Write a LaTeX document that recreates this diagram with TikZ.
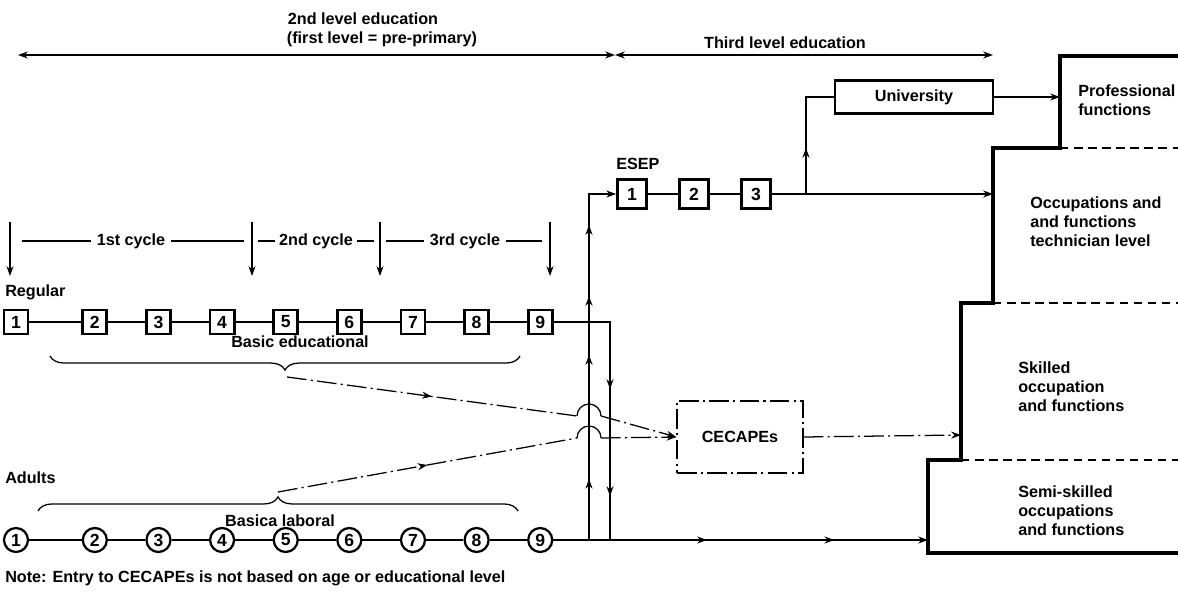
\documentclass[tikz,border=0pt]{standalone}
\usepackage{fontspec}
\setmainfont{Liberation Sans}
\usetikzlibrary{arrows.meta,positioning,calc,decorations.pathreplacing,decorations.markings}

\begin{document}
\begin{tikzpicture}[
  x=0.025cm, y=-0.025cm,
  node distance=0.92cm,
  font=\fontsize{11.5}{13.5}\selectfont\bfseries,
  sq/.style={rectangle,draw,line width=2pt,minimum size=0.6cm,inner sep=0pt,font=\fontsize{12.5}{14}\selectfont\bfseries},
  rnd/.style={circle,draw,line width=1.6pt,minimum size=0.6cm,inner sep=0pt,font=\fontsize{12.5}{14}\selectfont\bfseries},
  ln/.style={line width=0.9pt},
  tip/.style={ln,-{Stealth[length=7pt,width=5pt]}},
  dd/.style={line width=0.9pt,dash pattern=on 14pt off 3pt on 1.5pt off 3pt},
  stair/.style={line width=2.2pt,line join=miter},
  sepline/.style={line width=1pt,dash pattern=on 6pt off 4pt},
  midtip/.style={postaction={decorate,decoration={markings,mark=at position #1 with {\arrow{Stealth[length=7pt,width=5pt]}}}}},
  opentip/.style={postaction={decorate,decoration={markings,mark=at position #1 with {\arrow{Stealth[open,length=7pt,width=5pt]}}}}},
  txt/.style={align=left,anchor=west,inner sep=0pt}
]
  \useasboundingbox (0,0) rectangle (1178,597);

  % Levels
  \node (lvl2) at (363,19) {2nd level education};
  \node (lvl1) at (382,39) {(first level = pre-primary)};
  \node (lvl3) at (785,43) {Third level education};
  \coordinate (tL) at (18,55);
  \coordinate (tM) at (615,55);
  \coordinate (tR) at (993,55);
  \draw[ln,{Stealth[length=7pt,width=5pt]}-{Stealth[length=7pt,width=5pt]}] (tL) -- (tM);
  \draw[ln,{Stealth[length=7pt,width=5pt]}-{Stealth[length=7pt,width=5pt]}] (tM) -- (tR);

  % Cycles
  \coordinate (k0) at (10,222);
  \coordinate (k1) at (252,222);
  \coordinate (k2) at (380,222);
  \coordinate (k3) at (550,222);
  \coordinate (kb) at (0,276);
  \coordinate (ky) at (0,241);
  \draw[tip] (k0) -- (k0 |- kb);
  \draw[tip] (k1) -- (k1 |- kb);
  \draw[tip] (k2) -- (k2 |- kb);
  \draw[tip] (k3) -- (k3 |- kb);
  \draw[ln,shorten <=0.3cm,shorten >=0.2cm] (k0 |- ky) -- node[fill=white,inner xsep=4pt]{1st cycle} (k1 |- ky);
  \draw[ln,shorten <=0.15cm,shorten >=0.15cm] (k1 |- ky) -- node[fill=white,inner xsep=3pt]{2nd cycle} (k2 |- ky);
  \draw[ln,shorten <=0.15cm,shorten >=0.2cm] (k2 |- ky) -- node[fill=white,inner xsep=4pt]{3rd cycle} (k3 |- ky);

  % Regular
  \node[txt] (reg) at (5,292) {Regular};
  \node[sq] (r1) at (16,322) {1};
  \node[sq,right=1.3cm of r1] (r2) {2};
  \node[sq,right=of r2] (r3) {3};
  \node[sq,right=of r3] (r4) {4};
  \node[sq,right=of r4] (r5) {5};
  \node[sq,right=of r5] (r6) {6};
  \node[sq,right=of r6] (r7) {7};
  \node[sq,right=of r7] (r8) {8};
  \node[sq,right=of r8] (r9) {9};
  \draw[ln] (r1) -- (r2) -- (r3) -- (r4) -- (r5) -- (r6) -- (r7) -- (r8) -- (r9);
  \draw[ln,decorate,decoration={brace,mirror,amplitude=10pt}] (50,356) -- (520,356);
  \node (basic) at (300,342) {Basic educational};
  \coordinate (bt1) at (287,377);

  % Adults
  \node[txt] (adu) at (5,478) {Adults};
  \node[rnd] (a1) at (r1 |- 0,540) {1};
  \node[rnd] (a2) at (r2 |- a1) {2};
  \node[rnd] (a3) at (r3 |- a1) {3};
  \node[rnd] (a4) at (r4 |- a1) {4};
  \node[rnd] (a5) at (r5 |- a1) {5};
  \node[rnd] (a6) at (r6 |- a1) {6};
  \node[rnd] (a7) at (r7 |- a1) {7};
  \node[rnd] (a8) at (r8 |- a1) {8};
  \node[rnd] (a9) at (r9 |- a1) {9};
  \draw[ln] (a1) -- (a2) -- (a3) -- (a4) -- (a5) -- (a6) -- (a7) -- (a8) -- (a9);
  \draw[ln,decorate,decoration={brace,amplitude=10pt}] (38,511) -- (518,511);
  \node (lab) at (280,521) {Basica laboral};
  \coordinate (bt2) at (278,492);

  % ESEP and University
  \node[txt] (esep) at (616,164) {ESEP};
  \node[sq,minimum size=0.72cm] (e1) at (632,194) {1};
  \node[sq,minimum size=0.72cm,right=0.76cm of e1] (e2) {2};
  \node[sq,minimum size=0.72cm,right=0.76cm of e2] (e3) {3};
  \draw[ln] (e1) -- (e2) -- (e3);
  \node[sq,minimum width=3.95cm,minimum height=0.82cm,font=\fontsize{11.5}{13.5}\selectfont\bfseries] (uni) at (914,97) {University};
  \coordinate (uj) at (806,194);

  % CECAPEs
  \node[draw,dd,minimum width=3.15cm,minimum height=1.8cm] (cec) at (740,437) {CECAPEs};

  % Occupation levels
  \draw[stair] (1178,56) -- (1060,56) -- (1060,148) -- (993,148) -- (993,303) -- (961,303) -- (961,460) -- (928,460) -- (928,553) -- (1178,553);
  \draw[sepline] (1060,148) -- (1178,148);
  \draw[sepline] (993,303) -- (1178,303);
  \draw[sepline] (961,460) -- (1178,460);
  \node[txt] (prof) at (1078,100) {Professional\\functions};
  \node[txt] (tech) at (1030,222) {Occupations and\\and functions\\technician level};
  \node[txt] (skill) at (1018,387) {Skilled\\occupation\\and functions};
  \node[txt] (semi) at (1018,511) {Semi-skilled\\occupations\\and functions};
  \coordinate (profW) at (1060,97);
  \coordinate (techW) at (993,194);
  \coordinate (skillW) at (961,435);
  \coordinate (semiW) at (928,540);

  % Flows
  \coordinate (up) at (589,540);
  \coordinate (dn) at (610,322);
  \draw[tip,midtip=0.164,midtip=0.496,midtip=0.654,midtip=0.844] (up) -- (up |- e1) -- (e1.west);
  \draw[ln,midtip=0.45,midtip=0.84] (r9.east) -- (dn) -- (dn |- a1);
  \draw[tip,midtip=0.41,midtip=0.75] (a9.east) -- (semiW);
  \draw[tip] (e3.east) -- (techW);
  \draw[ln,opentip=0.37] (uj) -- (uj |- uni) -- (uni.west);
  \draw[tip] (uni.east) -- (profW);

  % Dash-dot routes to CECAPEs
  \draw[dd,midtip=0.5] (bt1) -- (577,416);
  \draw[ln] (577,416) arc[start angle=180,end angle=360,radius=12];
  \draw[dd,-{Stealth[length=7pt,width=5pt]}] (601,416) -- (cec.west);
  \draw[dd,midtip=0.5] (bt2) -- (577,438);
  \draw[ln] (577,438) arc[start angle=180,end angle=360,radius=12];
  \draw[dd,-{Stealth[length=7pt,width=5pt]}] (601,438) -- (cec.west);
  \draw[dd,-{Stealth[length=7pt,width=5pt]}] (cec.east) -- (skillW);

  % Note
  \node[txt] (note) at (5,578) {Note: Entry to CECAPEs is not based on age or educational level};
\end{tikzpicture}
\end{document}
